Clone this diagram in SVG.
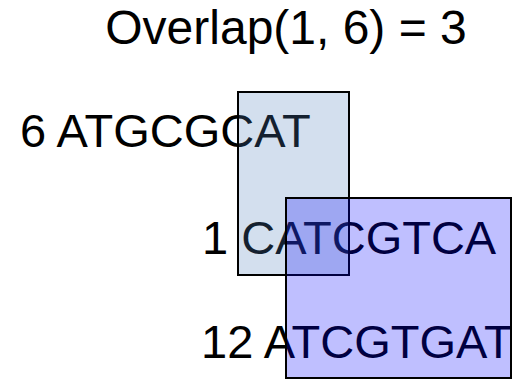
<svg xmlns="http://www.w3.org/2000/svg" width="512" height="379" viewBox="0 0 512 379">
<style>
text{font-family:"Liberation Sans",Arial,sans-serif;fill:#000}
.t{font-size:48px}
.s{font-size:47px}
.box{stroke:#000;stroke-width:2}
</style>
<rect width="512" height="379" fill="#fff"/>
<g id="title"><text class="t" x="286" y="44" text-anchor="middle">Overlap(1, 6) = 3</text></g>
<g id="read6"><text class="s" x="20" y="147">6 ATGCGCAT</text></g>
<g id="read1"><text class="s" x="202" y="254">1 CATCGTCA</text></g>
<g id="read12"><text class="s" x="201" y="358">12 ATCGTGAT</text></g>
<g id="box1"><rect class="box" x="238" y="92" width="111" height="183" fill="#4f81bd" fill-opacity="0.25"/></g>
<g id="box2"><rect class="box" x="286" y="198" width="225" height="180" fill="#0000ff" fill-opacity="0.25"/></g>
</svg>
